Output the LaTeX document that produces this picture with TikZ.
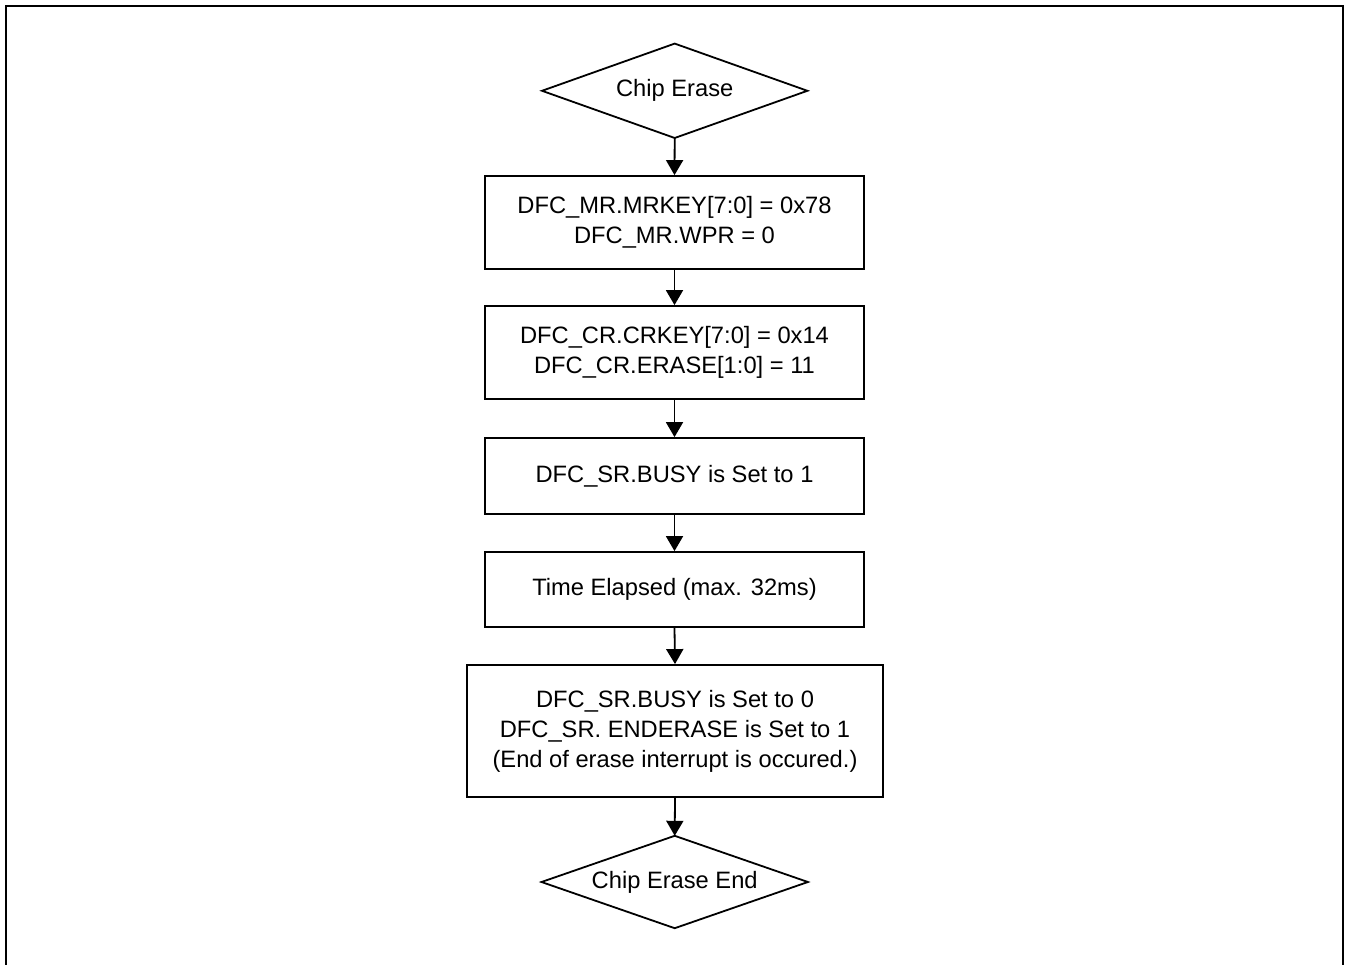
\documentclass[tikz,border=0pt]{standalone}
\usepackage{fontspec}
\setmainfont{Liberation Sans}
\usetikzlibrary{arrows.meta}
\begin{document}
\begin{tikzpicture}[x=1pt,y=-1pt,
  every node/.style={font=\fontsize{23.7}{30}\selectfont, inner sep=0pt, align=center},
  stepbox/.style={draw, line width=1.8pt, rectangle, minimum width=379pt},
  termbox/.style={rectangle, minimum width=265pt, minimum height=94pt},
  shapeline/.style={line width=1.8pt, line join=miter},
  flow/.style={line width=1.8pt, -{Triangle[width=17pt,length=15pt]}}]
\useasboundingbox (0,0) rectangle (1346,965);
\draw[line width=2.2pt] (6,968) -- (6,6) -- (1343,6) -- (1343,968);
\node[termbox] (d1) at (674.7,90.8) {Chip Erase};
\draw[shapeline] (d1.west) -- (d1.north) -- (d1.east) -- (d1.south) -- cycle;
\node[stepbox, minimum height=93pt] (b1) at (674.5,222.5) {\fontsize{23.7}{36}\selectfont DFC\_MR.MRKEY[7:0] = 0x78\\DFC\_MR.WPR = 0};
\node[stepbox, minimum height=93pt] (b2) at (674.5,352.5) {\fontsize{23.7}{32}\selectfont DFC\_CR.CRKEY[7:0] = 0x14\\DFC\_CR.ERASE[1:0] = 11};
\node[stepbox, minimum height=76pt] (b3) at (674.5,476) {DFC\_SR.BUSY is Set to 1};
\node[stepbox, minimum height=75pt] (b4) at (674.5,589.5) {Time Elapsed (max. 32ms)};
\node[stepbox, minimum width=416pt, minimum height=132pt] (b5) at (675,731) {DFC\_SR.BUSY is Set to 0\\DFC\_SR. ENDERASE is Set to 1\\(End of erase interrupt is occured.)};
\node[termbox, minimum width=266pt, minimum height=92pt] (d2) at (674.7,882) {Chip Erase End};
\draw[shapeline] (d2.west) -- (d2.north) -- (d2.east) -- (d2.south) -- cycle;
\draw[flow] (d1.south) -- (b1.north);
\draw[flow] (b1.south) -- (b2.north);
\draw[flow] (b2.south) -- (b3.north);
\draw[flow] (b3.south) -- (b4.north);
\draw[flow] (b4.south) -- (b5.north);
\draw[flow] (b5.south) -- (d2.north);
\end{tikzpicture}
\end{document}
